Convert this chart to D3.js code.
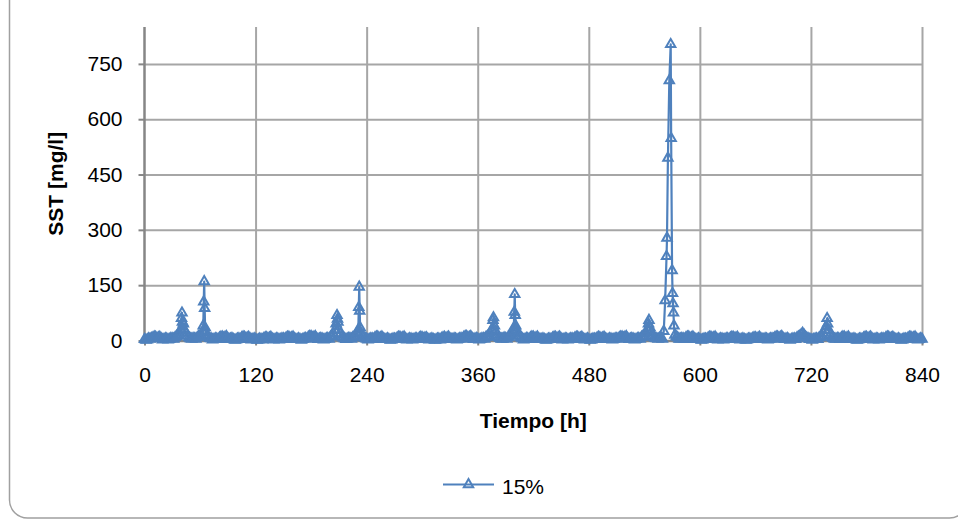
<!DOCTYPE html>
<html>
<head>
<meta charset="utf-8">
<script src="https://cdn.jsdelivr.net/npm/d3@7"></script>
<style>
  body { margin: 0; background: #fff; }
  text { font-family: "Liberation Sans", Arial, sans-serif; fill: #000; }
  .tick text { font-size: 21px; }
  .title { font-size: 21px; font-weight: bold; }
</style>
</head>
<body>
<div class="chart"></div>
<script>
// SST at 15%
// sstBase: samples at 0, 3, 6 ... h (8 per day)
const tiempoPaso = 3;
const sstBase = [
  3, 2, 4, 7, 9, 8, 5, 3,
  4, 3, 5, 8, 14, 30, 45, 20,
  8, 4, 5, 8, 10, 25, 22, 10,
  5, 3, 4, 7, 10, 9, 6, 4,
  3, 2, 5, 8, 9, 7, 5, 3,
  3, 2, 3, 6, 8, 7, 4, 3,
  4, 3, 5, 7, 9, 8, 5, 3,
  3, 3, 6, 9, 11, 9, 6, 4,
  4, 3, 6, 10, 18, 45, 30, 10,
  5, 4, 6, 8, 12, 30, 20, 8,
  4, 3, 5, 8, 10, 8, 5, 3,
  3, 2, 4, 7, 9, 8, 5, 3,
  4, 3, 5, 7, 8, 7, 4, 3,
  3, 2, 4, 6, 9, 8, 5, 3,
  4, 3, 6, 9, 11, 9, 6, 4,
  4, 3, 6, 9, 12, 30, 40, 15,
  6, 4, 6, 9, 15, 35, 30, 12,
  5, 3, 5, 8, 10, 8, 5, 3,
  3, 2, 4, 7, 9, 8, 5, 3,
  4, 3, 5, 7, 9, 7, 4, 3,
  3, 2, 4, 7, 8, 7, 5, 3,
  4, 3, 5, 8, 10, 9, 6, 4,
  4, 3, 6, 9, 12, 30, 35, 12,
  6, 4, 8, 25, 228, 705, 190, 15,
  8, 4, 5, 8, 10, 8, 5, 3,
  3, 2, 4, 7, 9, 8, 5, 3,
  4, 3, 5, 7, 9, 7, 4, 3,
  3, 2, 4, 6, 8, 7, 5, 3,
  4, 3, 5, 8, 10, 9, 6, 4,
  3, 3, 5, 8, 12, 20, 10, 5,
  3, 3, 5, 8, 12, 28, 45, 15,
  6, 4, 5, 8, 10, 8, 5, 3,
  3, 2, 4, 7, 9, 8, 5, 3,
  4, 3, 5, 8, 9, 7, 5, 3,
  3, 2, 4, 7, 9, 8, 5, 3,
  4
];
// sstMedio: samples at 1.5, 4.5, 7.5 ... h (between the ones above)
const sstMedio = [
  1, 5, 6, 10, 6, 9, 2, 5,
  2, 6, 4, 11, 20, 70, 26, 12,
  5, 6, 4, 11, 14, 150, 14, 6,
  2, 5, 3, 9, 7, 11, 3, 6,
  1, 4, 3, 10, 6, 9, 2, 5,
  1, 4, 2, 8, 5, 9, 2, 5,
  2, 5, 3, 9, 6, 10, 3, 5,
  1, 5, 4, 11, 8, 11, 3, 6,
  2, 5, 4, 13, 28, 58, 18, 7,
  3, 6, 4, 10, 20, 80, 14, 6,
  2, 5, 3, 10, 6, 10, 3, 5,
  1, 4, 3, 9, 6, 10, 2, 5,
  2, 5, 3, 9, 5, 8, 2, 5,
  1, 4, 2, 8, 6, 10, 3, 5,
  2, 5, 4, 11, 8, 11, 3, 6,
  2, 5, 4, 11, 20, 55, 25, 9,
  4, 7, 4, 12, 24, 68, 20, 8,
  2, 6, 3, 10, 6, 10, 3, 5,
  1, 4, 3, 9, 6, 10, 2, 5,
  2, 5, 3, 9, 6, 9, 2, 5,
  1, 4, 3, 9, 5, 9, 3, 5,
  2, 5, 4, 10, 7, 11, 3, 6,
  2, 5, 4, 11, 20, 45, 22, 8,
  5, 6, 4, 108, 495, 803, 75, 10,
  4, 6, 3, 10, 6, 10, 3, 5,
  1, 4, 3, 9, 6, 10, 2, 5,
  2, 5, 3, 9, 6, 9, 2, 5,
  1, 4, 3, 8, 5, 9, 3, 5,
  2, 5, 4, 10, 7, 11, 3, 6,
  1, 4, 3, 10, 16, 15, 7, 3,
  1, 4, 3, 10, 20, 38, 28, 9,
  4, 6, 3, 10, 6, 10, 3, 5,
  1, 4, 3, 9, 6, 10, 2, 5,
  2, 5, 3, 10, 6, 9, 3, 5,
  1, 4, 3, 9, 6, 10, 2, 5
];

// extra samples inside the peaks
const picoTiempo = [40, 40.5, 41, 43, 63.5, 64, 64.5, 65, 65.5, 208, 209,
                    231.5, 232, 232.5, 233, 376.5, 377, 399.5, 400, 400.5, 401,
                    545, 564.5, 569, 570.5, 571, 572, 737.5];
const picoSST = [60, 75, 50, 30, 40, 105, 160, 87, 35, 68, 50,
                 90, 145, 80, 35, 55, 62, 77, 125, 68, 40,
                 55, 278, 548, 128, 100, 40, 60];

const xTicks = [0, 120, 240, 360, 480, 600, 720, 840];
const yTicks = [0, 150, 300, 450, 600, 750];
const serie = "15%";
const xTitulo = "Tiempo [h]";
const yTitulo = "SST [mg/l]";

const getLine = () => {
  const w = 958;
  const h = 519;
  const left = 144.5, right = 922, top = 27, bottom = 340.5;
  const color = "#4F81BD";

  // merge the three lists by time, the peak samples win
  const porTiempo = new Map();
  sstBase.forEach((v, i) => porTiempo.set(i * tiempoPaso, v));
  sstMedio.forEach((v, i) => porTiempo.set(i * tiempoPaso + tiempoPaso / 2, v));
  picoTiempo.forEach((t, i) => porTiempo.set(t, picoSST[i]));
  const dataset = Array.from(porTiempo).sort((a, b) => a[0] - b[0]);

  const svg = d3.select(".chart")
                .append("svg")
                .attr("width", w)
                .attr("height", h)

  // chart area border (rounded, partly outside the picture)
  svg.append("rect")
     .attr("x", 9.5)
     .attr("y", -40)
     .attr("width", 958)
     .attr("height", 558)
     .attr("rx", 18)
     .attr("fill", "none")
     .attr("stroke", "#a0a0a0")
     .attr("stroke-width", 1.5)

  const xScale = d3.scaleLinear().domain([0, 840]).range([left, right])
  const yScale = d3.scaleLinear().domain([0, 850]).range([bottom, top])

  // gridlines
  svg.append("g")
     .attr("class", "grid")
     .attr("transform", "translate(0, " + bottom + ")")
     .call(d3.axisBottom(xScale).tickValues(xTicks.slice(1)).tickSize(-(bottom - top)).tickFormat(""))
  svg.append("g")
     .attr("class", "grid")
     .attr("transform", "translate(" + left + ", 0)")
     .call(d3.axisLeft(yScale).tickValues(yTicks.slice(1)).tickSize(-(right - left)).tickFormat(""))
  svg.selectAll(".grid .domain").remove()
  svg.selectAll(".grid line").attr("stroke", "#a6a6a6").attr("stroke-width", 2)

  // axes
  const xAxis = svg.append("g")
                   .attr("transform", "translate(0, " + bottom + ")")
                   .call(d3.axisBottom(xScale).tickValues(xTicks).tickSize(5).tickPadding(22).tickSizeOuter(0))
  const yAxis = svg.append("g")
                   .attr("transform", "translate(" + left + ", 0)")
                   .call(d3.axisLeft(yScale).tickValues(yTicks).tickSize(6).tickPadding(16).tickSizeOuter(0))
  yAxis.select(".domain").attr("d", "M0," + bottom + "V" + top)
  xAxis.selectAll(".domain").attr("stroke", "#868686").attr("stroke-width", 2.5)
  yAxis.selectAll(".domain").attr("stroke", "#868686").attr("stroke-width", 2.5)
  svg.selectAll(".tick line").filter(function () { return !this.closest(".grid"); })
     .attr("stroke", "#868686").attr("stroke-width", 2)
  svg.selectAll(".tick text").attr("fill", "#000")

  // titles
  svg.append("text")
     .attr("class", "title")
     .attr("text-anchor", "middle")
     .attr("x", (left + right) / 2)
     .attr("y", 428)
     .text(xTitulo)
  svg.append("text")
     .attr("class", "title")
     .attr("text-anchor", "middle")
     .attr("transform", "translate(63, " + ((top + bottom) / 2) + ") rotate(-90)")
     .text(yTitulo)

  // series
  const line = d3.line().x((d) => xScale(d[0])).y((d) => yScale(d[1]))
  svg.append("path")
     .datum(dataset)
     .attr("d", line)
     .attr("fill", "none")
     .attr("stroke", color)
     .attr("stroke-width", 2.2)
     .attr("stroke-linejoin", "round")

  const tri = d3.symbol(d3.symbolTriangle, 38)
  svg.selectAll(".marker")
     .data(dataset)
     .enter()
     .append("path")
     .attr("class", "marker")
     .attr("d", tri)
     .attr("transform", (d) => "translate(" + xScale(d[0]) + ", " + yScale(d[1]) + ")")
     .attr("fill", "none")
     .attr("stroke", color)
     .attr("stroke-width", 2)

  // legend
  const legend = svg.append("g").attr("transform", "translate(443, 484.5)")
  legend.append("line")
        .attr("x1", 0).attr("x2", 51)
        .attr("stroke", color)
        .attr("stroke-width", 2)
  legend.append("path")
        .attr("d", tri)
        .attr("transform", "translate(25.5, 0)")
        .attr("fill", "none")
        .attr("stroke", color)
        .attr("stroke-width", 2)
  legend.append("text")
        .attr("x", 59)
        .attr("y", 9.5)
        .style("font-size", "21px")
        .text(serie)
}

getLine();
</script>
</body>
</html>
